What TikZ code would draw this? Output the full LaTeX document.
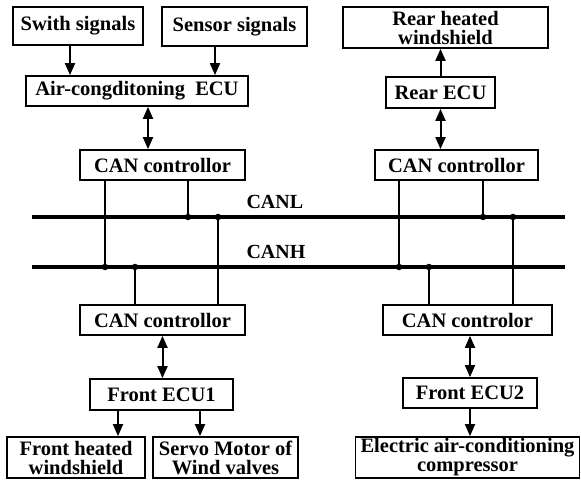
\documentclass[tikz,border=0pt]{standalone}
\usepackage{fontspec}
\setmainfont{Liberation Serif}
\usetikzlibrary{arrows.meta}
\begin{document}
\begin{tikzpicture}[x=1pt,y=1pt,
  box/.style={draw,line width=1.8pt,inner sep=0pt,align=center,font=\fontsize{20.5}{19}\selectfont\bfseries},
  arr/.style={line width=2pt,-{Triangle[length=12pt,width=10pt]}},
  darr/.style={line width=2pt,{Triangle[length=12pt,width=10pt]}-{Triangle[length=12pt,width=10pt]}},
  bus/.style={line width=3.6pt},
  wire/.style={line width=1.5pt},
  dot/.style={fill,circle,inner sep=0pt,minimum size=6.5pt},
  lab/.style={font=\fontsize{20}{20}\selectfont\bfseries}]
\useasboundingbox (0,0) rectangle (581,-481);
% nodes
\node[box,minimum width=130,minimum height=38] (sw) at (78,-26) {Swith signals};
\node[box,minimum width=145,minimum height=39] (se) at (234.5,-26.5) {Sensor signals};
\node[box,minimum width=222,minimum height=30] (ac) at (137,-91) {Air-congditoning\ \ ECU};
\node[box,minimum width=165,minimum height=30] (cl1) at (162.5,-165) {CAN controllor};
\node[box,minimum width=205,minimum height=41] (rh) at (445.5,-27.5) {Rear heated\\windshield};
\node[box,minimum width=109,minimum height=31] (re) at (440.5,-92.5) {Rear ECU};
\node[box,minimum width=163,minimum height=30] (cr1) at (456.5,-165) {CAN controllor};
\node[box,minimum width=165,minimum height=30] (cl2) at (162.5,-320) {CAN controllor};
\node[box,minimum width=169,minimum height=30] (cr2) at (467.5,-320) {CAN controlor};
\node[box,minimum width=143,minimum height=31] (fe1) at (161.5,-394.5) {Front ECU1};
\node[box,minimum width=134,minimum height=30] (fe2) at (470,-393) {Front ECU2};
\node[box,minimum width=138,minimum height=41] (fh) at (76,-457.5) {Front heated\\windshield};
\node[box,minimum width=145,minimum height=41] (sm) at (225.5,-457.5) {Servo Motor of\\Wind valves};
\node[box,minimum width=224,minimum height=41] (ec) at (467.5,-457.5) {Electric air-conditioning\\compressor};
% buses
\coordinate (L1) at (32,-217); \coordinate (L2) at (565,-217);
\coordinate (H1) at (32,-267); \coordinate (H2) at (565,-267);
\draw[bus] (L1) -- (L2);
\draw[bus] (H1) -- (H2);
\node[lab,anchor=west] (canl) at (243,-202) {CANL};
\node[lab,anchor=west] (canh) at (243,-252) {CANH};
% arrows top
\draw[arr] ([xshift=-8pt]sw.south) -- ([xshift=-8pt]sw.south |- ac.north);
\draw[arr] ([xshift=-19.5pt]se.south) -- ([xshift=-19.5pt]se.south |- ac.north);
\draw[darr] ([xshift=-14.5pt]cl1.north |- ac.south) -- ([xshift=-14.5pt]cl1.north);
\draw[arr] (re.north) -- (re.north |- rh.south);
\draw[darr] (re.south) -- (re.south |- cr1.north);
% arrows bottom
\draw[darr] (cl2.south) -- (cl2.south |- fe1.north);
\draw[darr] (fe2.north |- cr2.south) -- (fe2.north);
\draw[arr] ([xshift=-43.5pt]fe1.south) -- ([xshift=-43.5pt]fe1.south |- fh.north);
\draw[arr] ([xshift=38.5pt]fe1.south) -- ([xshift=38.5pt]fe1.south |- sm.north);
\draw[arr] (fe2.south) -- (fe2.south |- ec.north);
% wires
\draw[wire] ([xshift=-57.5pt]cl1.south) -- ([xshift=-57.5pt]cl1.south |- H1) node[dot]{};
\draw[wire] ([xshift=25.5pt]cl1.south) -- ([xshift=25.5pt]cl1.south |- L1) node[dot]{};
\draw[wire] ([xshift=-27.5pt]cl2.north) -- ([xshift=-27.5pt]cl2.north |- H1) node[dot]{};
\draw[wire] ([xshift=55.5pt]cl2.north) -- ([xshift=55.5pt]cl2.north |- L1) node[dot]{};
\draw[wire] ([xshift=-57.5pt]cr1.south) -- ([xshift=-57.5pt]cr1.south |- H1) node[dot]{};
\draw[wire] ([xshift=26.5pt]cr1.south) -- ([xshift=26.5pt]cr1.south |- L1) node[dot]{};
\draw[wire] ([xshift=-38.5pt]cr2.north) -- ([xshift=-38.5pt]cr2.north |- H1) node[dot]{};
\draw[wire] ([xshift=45.5pt]cr2.north) -- ([xshift=45.5pt]cr2.north |- L1) node[dot]{};
\end{tikzpicture}
\end{document}
